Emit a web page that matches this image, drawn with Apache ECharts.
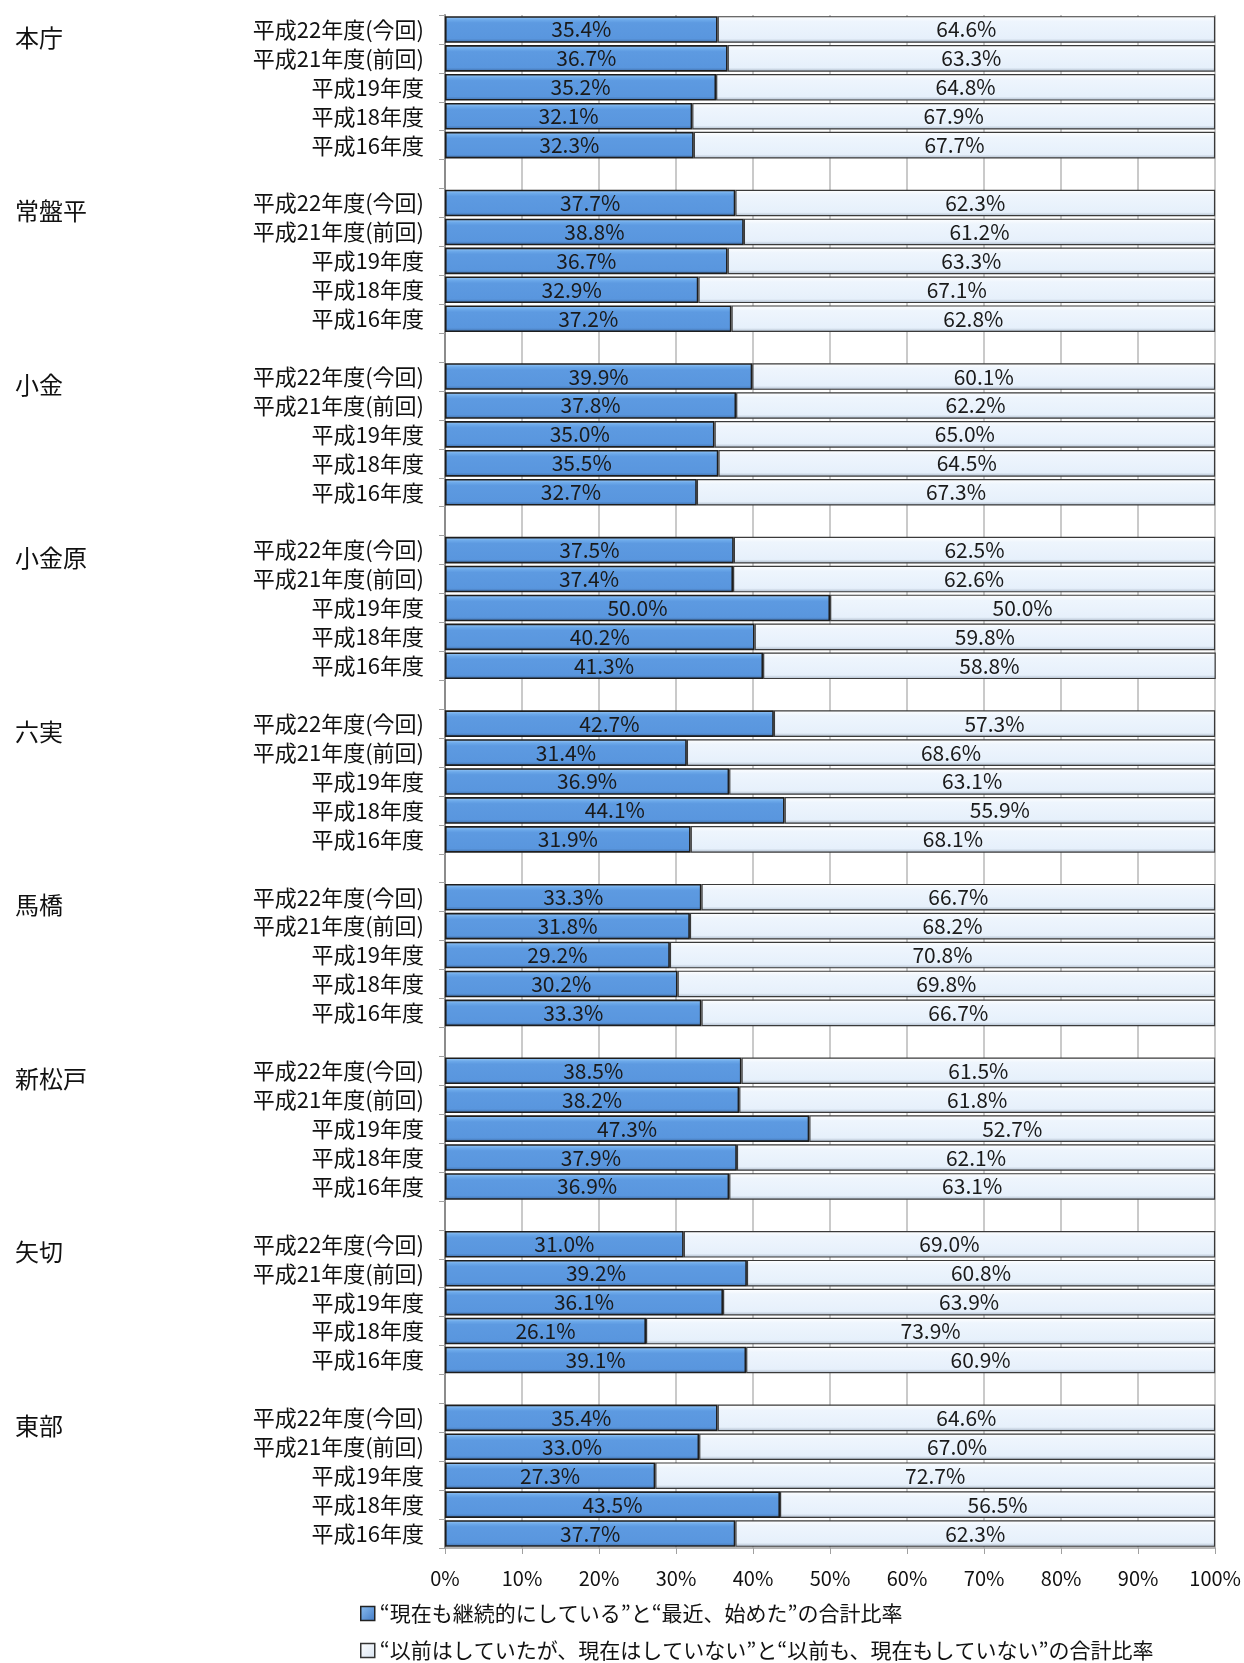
<!DOCTYPE html>
<html>
<head>
<meta charset="utf-8">
<script src="https://cdn.jsdelivr.net/npm/echarts@6/dist/echarts.min.js"></script>
<style>
html,body{margin:0;padding:0;background:#fff;}
#chart{width:1244px;height:1663px;}
</style>
</head>
<body>
<div id="chart"></div>
<script>
var groups = ['本庁','常盤平','小金','小金原','六実','馬橋','新松戸','矢切','東部'];
var years = ['平成22年度(今回)','平成21年度(前回)','平成19年度','平成18年度','平成16年度'];
var seriesNames = ['“現在も継続的にしている”と“最近、始めた”の合計比率','“以前はしていたが、現在はしていない”と“以前も、現在もしていない”の合計比率'];
var xTicks = [0,10,20,30,40,50,60,70,80,90,100];

var doing = [
  [35.4,36.7,35.2,32.1,32.3],
  [37.7,38.8,36.7,32.9,37.2],
  [39.9,37.8,35.0,35.5,32.7],
  [37.5,37.4,50.0,40.2,41.3],
  [42.7,31.4,36.9,44.1,31.9],
  [33.3,31.8,29.2,30.2,33.3],
  [38.5,38.2,47.3,37.9,36.9],
  [31.0,39.2,36.1,26.1,39.1],
  [35.4,33.0,27.3,43.5,37.7]
];
var notDoing = [
  [64.6,63.3,64.8,67.9,67.7],
  [62.3,61.2,63.3,67.1,62.8],
  [60.1,62.2,65.0,64.5,67.3],
  [62.5,62.6,50.0,59.8,58.8],
  [57.3,68.6,63.1,55.9,68.1],
  [66.7,68.2,70.8,69.8,66.7],
  [61.5,61.8,52.7,62.1,63.1],
  [69.0,60.8,63.9,73.9,60.9],
  [64.6,67.0,72.7,56.5,62.3]
];

var cats = [], groupCats = [], s1 = [], s2 = [];
groups.forEach(function(g, gi){
  years.forEach(function(y, yi){
    cats.push(y);
    groupCats.push(yi === 0 ? g : '');
    s1.push(doing[gi][yi]);
    s2.push(notDoing[gi][yi]);
  });
  if (gi < groups.length - 1) {
    cats.push('');
    groupCats.push('');
    s1.push('-');
    s2.push('-');
  }
});

var FONT = '"Noto Sans CJK JP","Noto Sans",sans-serif';
var blueFill = new echarts.graphic.LinearGradient(0,0,0,1,[
  {offset:0,color:'#a0ccf6'},{offset:0.14,color:'#6ca9ea'},{offset:0.25,color:'#5d9ae1'},
  {offset:0.85,color:'#5996de'},{offset:1,color:'#3d6aa3'}]);
var lightFill = new echarts.graphic.LinearGradient(0,0,0,1,[
  {offset:0,color:'#ffffff'},{offset:0.2,color:'#eef5fd'},
  {offset:0.85,color:'#e6f0fb'},{offset:1,color:'#a9b6c6'}]);
var legendBlue = new echarts.graphic.LinearGradient(0,0,1,1,[
  {offset:0,color:'#8ec0f2'},{offset:1,color:'#3f78c4'}]);
var legendLight = new echarts.graphic.LinearGradient(0,0,1,1,[
  {offset:0,color:'#ffffff'},{offset:1,color:'#d6e2f0'}]);

var labelFmt = function(p){ return (typeof p.value === 'number') ? p.value.toFixed(1) + '%' : ''; };

var chart = echarts.init(document.getElementById('chart'), null, {renderer:'canvas'});
chart.setOption({
  animation:false,
  textStyle:{fontFamily:FONT},
  grid:{left:445,right:25,top:15,bottom:115,containLabel:false},
  legend:{
    orient:'vertical', left:360, top:1603, height:120, padding:0, itemWidth:14, itemHeight:14, itemGap:16,
    icon:'rect', selectedMode:false,
    textStyle:{fontFamily:FONT,fontSize:21,color:'#111'},
    data:[
      {name:seriesNames[0], itemStyle:{color:legendBlue,borderColor:'#222',borderWidth:1.5}},
      {name:seriesNames[1], itemStyle:{color:legendLight,borderColor:'#333',borderWidth:1.5}}
    ]
  },
  xAxis:{
    type:'value', min:xTicks[0], max:xTicks[xTicks.length-1], interval:10,
    axisLine:{show:true,lineStyle:{color:'#a0a0a0',width:1.5}},
    axisTick:{show:true,length:6,lineStyle:{color:'#a0a0a0'}},
    splitLine:{show:true,lineStyle:{color:'#b8b8b8',width:1.5}},
    axisLabel:{margin:20,fontSize:20,color:'#111',fontFamily:FONT,formatter:'{value}%'}
  },
  yAxis:[{
    type:'category', data:cats, inverse:true,
    axisLine:{show:true,lineStyle:{color:'#8c8c8c',width:2}},
    axisTick:{show:true,length:6,lineStyle:{color:'#a0a0a0'}},
    axisLabel:{margin:21,fontSize:22,color:'#111',fontFamily:FONT,interval:0}
  },{
    type:'category', data:groupCats, inverse:true, position:'left',
    axisLine:{show:false}, axisTick:{show:false}, splitLine:{show:false},
    axisLabel:{margin:430,align:'left',verticalAlign:'top',fontSize:24,color:'#111',fontFamily:FONT,interval:0,padding:[-4,0,0,0]}
  }],
  series:[{
    name:seriesNames[0], type:'bar', stack:'total', yAxisIndex:0, data:s1,
    barCategoryGap:'8%',
    itemStyle:{color:blueFill,borderColor:'#1e1e1e',borderWidth:1.6},
    label:{show:true,position:'inside',color:'#1a1a1a',fontSize:21,fontFamily:FONT,formatter:labelFmt}
  },{
    name:seriesNames[1], type:'bar', stack:'total', yAxisIndex:0, data:s2,
    barCategoryGap:'8%',
    itemStyle:{color:lightFill,borderColor:'#3a3a3a',borderWidth:1.2},
    label:{show:true,position:'inside',color:'#1a1a1a',fontSize:21,fontFamily:FONT,formatter:labelFmt}
  }]
});
</script>
</body>
</html>
